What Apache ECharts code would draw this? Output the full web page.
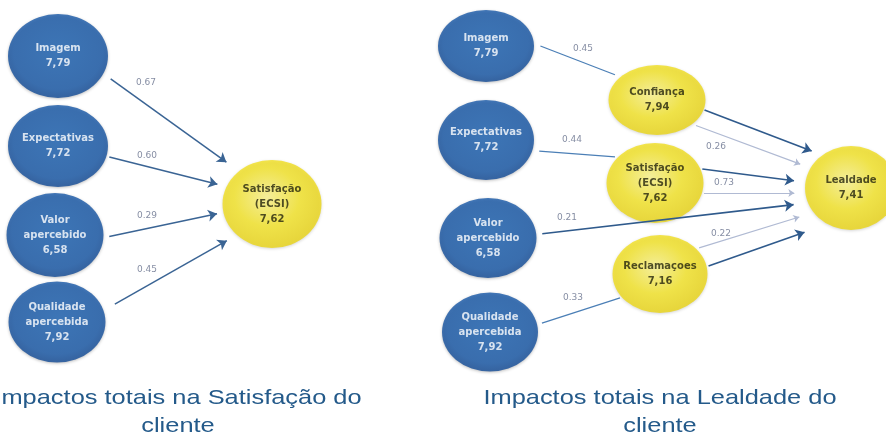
<!DOCTYPE html>
<html>
<head>
<meta charset="utf-8">
<script src="https://cdn.jsdelivr.net/npm/echarts@6/dist/echarts.min.js"></script>
<style>
  html, body { margin: 0; padding: 0; background: #fff; }
  #chart { width: 886px; height: 432px; }
</style>
</head>
<body>
<div id="chart"></div>
<script>
  // ---- data ----
  const drivers = ['Imagem', 'Expectativas', 'Valor\napercebido', 'Qualidade\napercebida'];
  const driverScores = [7.79, 7.72, 6.58, 7.92];
  const satisfacaoName = 'Satisfação\n(ECSI)';
  const satisfacaoScore = 7.62;
  const satisfacaoImpacts = [0.67, 0.60, 0.29, 0.45];

  const mediators = ['Confiança', 'Satisfação\n(ECSI)', 'Reclamaçoes'];
  const mediatorScores = [7.94, 7.62, 7.16];
  const lealdadeName = 'Lealdade';
  const lealdadeScore = 7.41;
  // Imagem->Confiança, Expectativas->Satisfação, Valor->Lealdade, Qualidade->Reclamaçoes
  const lealdadeDriverImpacts = [0.45, 0.44, 0.21, 0.33];
  const lealdadeMediatorImpacts = [0.26, 0.73, 0.22];

  const titles = ['Impactos totais na Satisfação do\ncliente', 'Impactos totais na Lealdade do\ncliente'];

  // ---- layout (pixels): [cx, cy, width, height] ----
  const L_DRV = [[58, 56, 100, 84], [58, 146, 100, 82], [55, 235, 97, 84], [57, 322, 97, 81]];
  const L_TGT = [272, 204, 99, 88];
  const R_DRV = [[486, 46, 96, 72], [486, 140, 96, 80], [488, 238, 97, 80], [490, 332, 96, 79]];
  const R_MED = [[657, 100, 97, 70], [655, 183, 97, 80], [660, 274, 95, 78]];
  const R_TGT = [851, 188, 92, 84];
  // edge geometry: [srcDy, dstDy, startGap, endGap, labelX, labelDy]
  const L_GEO = [[-15, -9, 9, 11, 146, -22], [-2, -6, 3, 5, 147, -11], [13, -2, 6, 2, 147, -13], [15, 11, 13, 7, 147, -16]];
  const R_IN_GEO = [[-21, -9, 7, 6, 583, -14], [7, -23, 7, 3, 572, -14], [2, 10, 6, 10, 567, -13], [8, 11, 5, 2, 573, -15]];
  const R_LIGHT_GEO = [[11, -5, 4, 8, 716, 14], [10, 5, 2, 8, 724, -10], [-14, 13, 3, 12, 721, -8]];
  const R_DARK_GEO = [[-8, -22, 1, 7], [-20, 0, 2, 7], [9, 28, 2, 20]];

  const fmt = v => v.toFixed(2).replace('.', ',');

  function hitEllipse(box, S, D, takeMax) {
    const [cx, cy, w, h] = box, rx = w / 2, ry = h / 2;
    const px = (S[0] - cx) / rx, py = (S[1] - cy) / ry, dx = D[0] / rx, dy = D[1] / ry;
    const a = dx * dx + dy * dy, b = 2 * (px * dx + py * dy), c = px * px + py * py - 1;
    const disc = Math.max(b * b - 4 * a * c, 0);
    const t1 = (-b - Math.sqrt(disc)) / (2 * a), t2 = (-b + Math.sqrt(disc)) / (2 * a);
    return takeMax ? t2 : t1;
  }

  const edgeLabels = [];
  function edge(src, dst, geo, value, arrowLen) {
    const S = [src[0], src[1] + geo[0]], T = [dst[0], dst[1] + geo[1]];
    const D = [T[0] - S[0], T[1] - S[1]];
    const len = Math.hypot(D[0], D[1]);
    const u = [D[0] / len, D[1] / len];
    const t0 = hitEllipse(src, S, D, true), t1 = hitEllipse(dst, S, D, false);
    const g0 = geo[2], g1 = geo[3] + (arrowLen || 0) / 2;
    const p0 = [S[0] + D[0] * t0 + u[0] * g0, S[1] + D[1] * t0 + u[1] * g0];
    const p1 = [S[0] + D[0] * t1 - u[0] * g1, S[1] + D[1] * t1 - u[1] * g1];
    if (value != null) {
      const lx = geo[4];
      const ly = S[1] + (lx - S[0]) * D[1] / D[0] + geo[5];
      edgeLabels.push([lx, ly, value.toFixed(2)]);
    }
    return { coords: [p0, p1] };
  }

  const leftEdges = drivers.map((d, i) => edge(L_DRV[i], L_TGT, L_GEO[i], satisfacaoImpacts[i], 9));
  const rightInTargets = [R_MED[0], R_MED[1], R_TGT, R_MED[2]];
  const rightIn = [];
  const rightDark = [];
  drivers.forEach((d, i) => {
    const e = edge(R_DRV[i], rightInTargets[i], R_IN_GEO[i], lealdadeDriverImpacts[i], i === 2 ? 9 : 0);
    (i === 2 ? rightDark : rightIn).push(e);
  });
  const rightLight = mediators.map((m, i) => edge(R_MED[i], R_TGT, R_LIGHT_GEO[i], lealdadeMediatorImpacts[i], 6));
  mediators.forEach((m, i) => rightDark.push(edge(R_MED[i], R_TGT, R_DARK_GEO[i], null, 9)));

  const blueFill = new echarts.graphic.RadialGradient(0.5, 0.45, 0.62, [
    { offset: 0, color: '#1b62b3' }, { offset: 0.72, color: '#1758a8' }, { offset: 1, color: '#0e418a' }
  ]);
  const yellowFill = new echarts.graphic.RadialGradient(0.45, 0.42, 0.6, [
    { offset: 0, color: '#fbf38a' }, { offset: 0.55, color: '#f5e525' }, { offset: 1, color: '#ead413' }
  ]);

  const blueNodes = [], yellowNodes = [];
  drivers.forEach((d, i) => {
    blueNodes.push({ value: [L_DRV[i][0], L_DRV[i][1]], symbolSize: [L_DRV[i][2], L_DRV[i][3]], name: d + '\n' + fmt(driverScores[i]) });
    blueNodes.push({ value: [R_DRV[i][0], R_DRV[i][1]], symbolSize: [R_DRV[i][2], R_DRV[i][3]], name: d + '\n' + fmt(driverScores[i]) });
  });
  yellowNodes.push({ value: [L_TGT[0], L_TGT[1]], symbolSize: [L_TGT[2], L_TGT[3]], name: satisfacaoName + '\n' + fmt(satisfacaoScore) });
  mediators.forEach((m, i) => {
    yellowNodes.push({ value: [R_MED[i][0], R_MED[i][1]], symbolSize: [R_MED[i][2], R_MED[i][3]], name: m + '\n' + fmt(mediatorScores[i]) });
  });
  yellowNodes.push({ value: [R_TGT[0], R_TGT[1]], symbolSize: [R_TGT[2], R_TGT[3]], name: lealdadeName + '\n' + fmt(lealdadeScore) });

  const FONT = 'Liberation Sans, Arial, sans-serif';
  const WIDE = 'DejaVu Sans, sans-serif';
  const chart = echarts.init(document.getElementById('chart'));
  chart.setOption({
    animation: false,
    grid: { left: 0, right: 0, top: 0, bottom: 0 },
    xAxis: { type: 'value', min: 0, max: 886, show: false },
    yAxis: { type: 'value', min: 0, max: 432, inverse: true, show: false },
    graphic: titles.map((t, i) => ({
      type: 'text', x: i === 0 ? 178 : 660, y: 384, z: 10, scaleX: 1.21,
      style: { text: t, textAlign: 'center', fill: '#245a8a', font: '21px ' + FONT, lineHeight: 28 }
    })),
    series: [
      {
        type: 'scatter', z: 2, symbol: 'circle', data: blueNodes,
        itemStyle: { color: blueFill, shadowBlur: 3, shadowColor: 'rgba(0,0,0,0.3)', shadowOffsetY: 1 },
        label: { show: true, position: 'inside', formatter: p => p.name, color: '#fff', fontWeight: 'bold', fontSize: 10, lineHeight: 15, fontFamily: WIDE }
      },
      {
        type: 'scatter', z: 2, symbol: 'circle', data: yellowNodes,
        itemStyle: { color: yellowFill, shadowBlur: 3, shadowColor: 'rgba(0,0,0,0.2)', shadowOffsetY: 1 },
        label: { show: true, position: 'inside', formatter: p => p.name, color: '#26260e', fontWeight: 'bold', fontSize: 10, lineHeight: 15, fontFamily: WIDE }
      },
      {
        type: 'lines', coordinateSystem: 'cartesian2d', z: 3, data: leftEdges,
        symbol: ['none', 'arrow'], symbolSize: [6, 9],
        lineStyle: { color: '#3a6494', width: 1.5, opacity: 1 }
      },
      {
        type: 'lines', coordinateSystem: 'cartesian2d', z: 3, data: rightIn,
        symbol: ['none', 'none'],
        lineStyle: { color: '#4b7fb6', width: 1.3, opacity: 1 }
      },
      {
        type: 'lines', coordinateSystem: 'cartesian2d', z: 3, data: rightLight,
        symbol: ['none', 'arrow'], symbolSize: [4, 6],
        lineStyle: { color: '#b0bad3', width: 1.2, opacity: 1 }
      },
      {
        type: 'lines', coordinateSystem: 'cartesian2d', z: 4, data: rightDark,
        symbol: ['none', 'arrow'], symbolSize: [6, 9],
        lineStyle: { color: '#2f5a8c', width: 1.6, opacity: 1 }
      },
      {
        type: 'scatter', z: 5, symbolSize: 0, data: edgeLabels,
        label: { show: true, position: 'inside', formatter: p => p.value[2], color: '#66708c', fontSize: 9, fontFamily: WIDE }
      }
    ]
  });
</script>
</body>
</html>
